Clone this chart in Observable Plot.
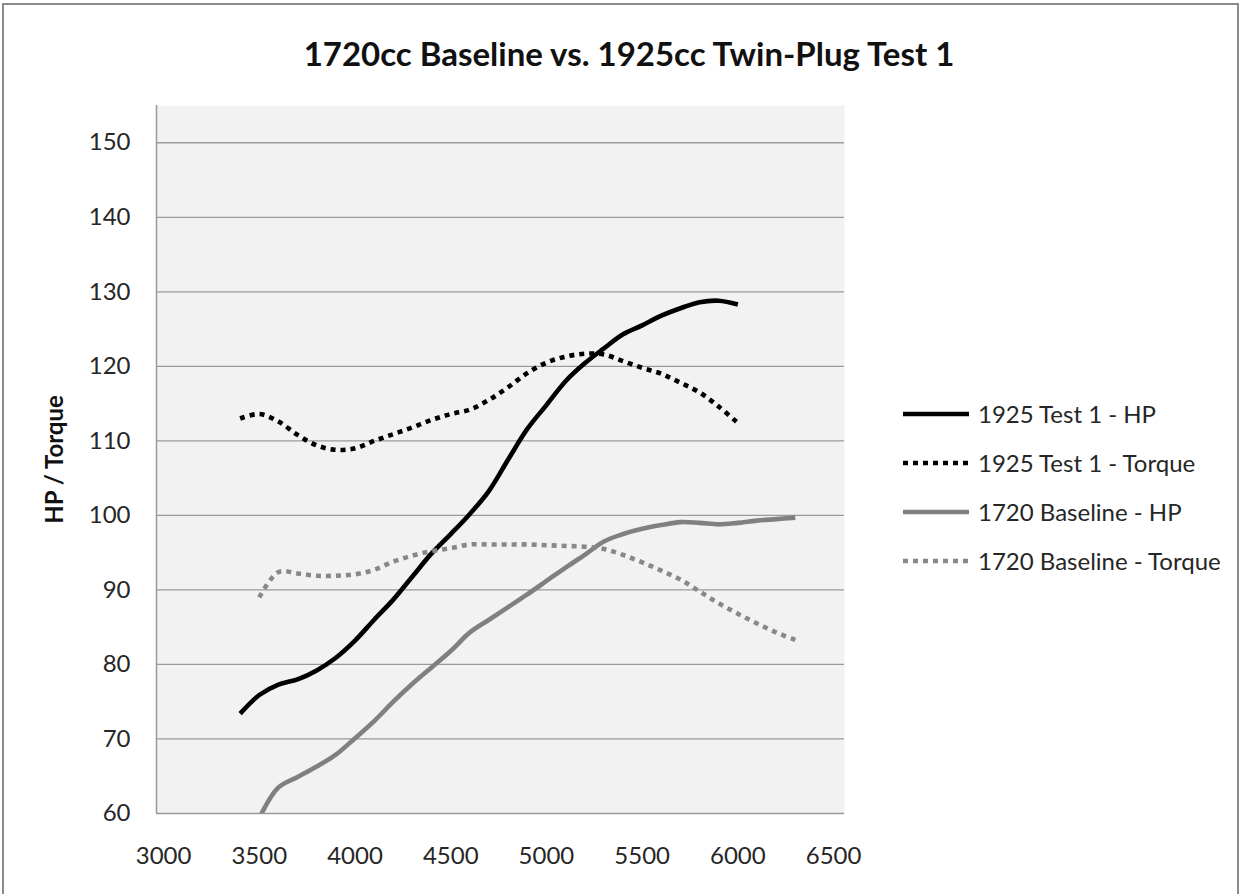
<!DOCTYPE html>
<html>
<head>
<meta charset="utf-8">
<script src="https://cdn.jsdelivr.net/npm/d3@7"></script>
<script src="https://cdn.jsdelivr.net/npm/@observablehq/plot@0.6"></script>
<style>
  html, body { margin: 0; padding: 0; background: #fff; }
  #wrap { position: relative; width: 1243px; height: 894px; overflow: hidden; font-family: Lato, "Open Sans", sans-serif; }
  #frame { position: absolute; left: 2px; top: 3px; width: 1237px; height: 900px; border: 2px solid #8c8c8c; box-sizing: border-box; pointer-events: none; }
  #title { position: absolute; left: 0; width: 1258px; top: 33px; text-align: center; font-size: 33px; font-weight: bold; color: #111; }
  #chart { position: absolute; left: 0; top: 0; }
  #legend { position: absolute; left: 903px; top: 389px; }
  .row { position: relative; height: 49px; display: flex; align-items: center; }
  .row svg { width: 68px; height: 10px; }
  .row span { margin-left: 7px; font-size: 24px; color: #262626; white-space: nowrap; }
</style>
</head>
<body>
<div id="wrap">
  <div id="title">1720cc Baseline vs. 1925cc Twin-Plug Test 1</div>
  <div id="chart"></div>
  <div id="legend"></div>
  <div id="frame"></div>
</div>
<script>
// RPM grids
const rpm1925 = [3400,3500,3600,3700,3800,3900,4000,4100,4200,4300,4400,4500,4600,4700,4800,4900,5000,5100,5200,5300,5400,5500,5600,5700,5800,5900,6000];
const rpm1720 = [3500,3600,3700,3800,3900,4000,4100,4200,4300,4400,4500,4600,4700,4800,4900,5000,5100,5200,5300,5400,5500,5600,5700,5800,5900,6000,6100,6200,6300];

// Series values
const hp1925 = [73.4,75.9,77.3,78.0,79.2,80.9,83.2,86.0,88.7,91.8,94.9,97.5,100.2,103.3,107.5,111.6,114.8,118.0,120.4,122.4,124.3,125.5,126.8,127.8,128.6,128.8,128.3];
const tq1925 = [113.0,113.6,112.6,110.8,109.4,108.8,109.0,110.0,110.9,111.8,112.8,113.6,114.2,115.5,117.2,119.1,120.5,121.3,121.7,121.6,120.7,119.8,119.0,117.8,116.5,114.6,112.4];
const hp1720 = [59.4,63.5,64.9,66.3,67.9,70.1,72.4,75.0,77.4,79.6,81.8,84.3,86.0,87.7,89.4,91.2,93.0,94.7,96.5,97.5,98.2,98.7,99.1,99.0,98.8,99.0,99.3,99.5,99.7];
const tq1720 = [89.0,92.4,92.2,91.9,91.9,92.1,92.7,93.8,94.6,95.2,95.6,96.1,96.1,96.1,96.1,96.0,95.9,95.8,95.5,94.7,93.7,92.6,91.4,89.8,88.2,86.8,85.5,84.3,83.3];

// Series names / styles
const seriesNames = ["1925 Test 1 - HP", "1925 Test 1 - Torque", "1720 Baseline - HP", "1720 Baseline - Torque"];
const seriesColors = ["#000000", "#000000", "#808080", "#888888"];
const seriesDash = [null, "5,5", null, "5,5"];

// Tick labels
const xTicks = [3000,3500,4000,4500,5000,5500,6000,6500];
const yTicks = [60,70,80,90,100,110,120,130,140,150];

const seriesData = [
  rpm1925.map((r, i) => ({rpm: r, v: hp1925[i]})),
  rpm1925.map((r, i) => ({rpm: r, v: tq1925[i]})),
  rpm1720.map((r, i) => ({rpm: r, v: hp1720[i]})),
  rpm1720.map((r, i) => ({rpm: r, v: tq1720[i]}))
];

const lineMarks = seriesData.map((d, i) => Plot.line(d, {
  x: "rpm", y: "v", stroke: seriesColors[i], strokeWidth: 4.6,
  strokeDasharray: seriesDash[i] || undefined, strokeLinecap: "butt",
  strokeLinejoin: "round", curve: "catmull-rom", clip: true
}));

const chart = Plot.plot({
  width: 1243,
  height: 894,
  marginLeft: 156,
  marginRight: 399,
  marginTop: 105,
  marginBottom: 81,
  style: { fontFamily: "Lato, 'Open Sans', sans-serif", fontSize: "24px", color: "#262626", background: "transparent" },
  x: { domain: [2963, 6557] },
  y: { domain: [60, 155] },
  marks: [
    Plot.frame({ fill: "#f2f2f2", stroke: null }),
    Plot.gridY(yTicks, { stroke: "#9a9a9a", strokeOpacity: 1, strokeWidth: 1.3 }),
    Plot.ruleX([2963], { stroke: "#9a9a9a", strokeWidth: 1.5 }),
    Plot.axisY(yTicks, { tickSize: 0, tickPadding: 26, label: null, fontSize: 24, fill: "#262626" }),
    Plot.axisX(xTicks, { tickSize: 0, tickPadding: 33, label: null, fontSize: 24, fill: "#262626", tickFormat: d => String(d) }),
    Plot.text(["HP / Torque"], { frameAnchor: "left", textAnchor: "middle", dx: -101, rotate: -90, fontWeight: "bold", fontSize: 24, fill: "#111" }),
    ...lineMarks
  ]
});
document.getElementById("chart").appendChild(chart);

// Legend
const legend = document.getElementById("legend");
seriesNames.forEach((name, i) => {
  const row = document.createElement("div");
  row.className = "row";
  const dash = seriesDash[i] ? ` stroke-dasharray="${seriesDash[i]}"` : "";
  row.innerHTML = `<svg viewBox="0 0 68 10"><line x1="0" y1="5" x2="66" y2="5" stroke="${seriesColors[i]}" stroke-width="4.6"${dash}/></svg><span>${name}</span>`;
  legend.appendChild(row);
});
</script>
</body>
</html>
